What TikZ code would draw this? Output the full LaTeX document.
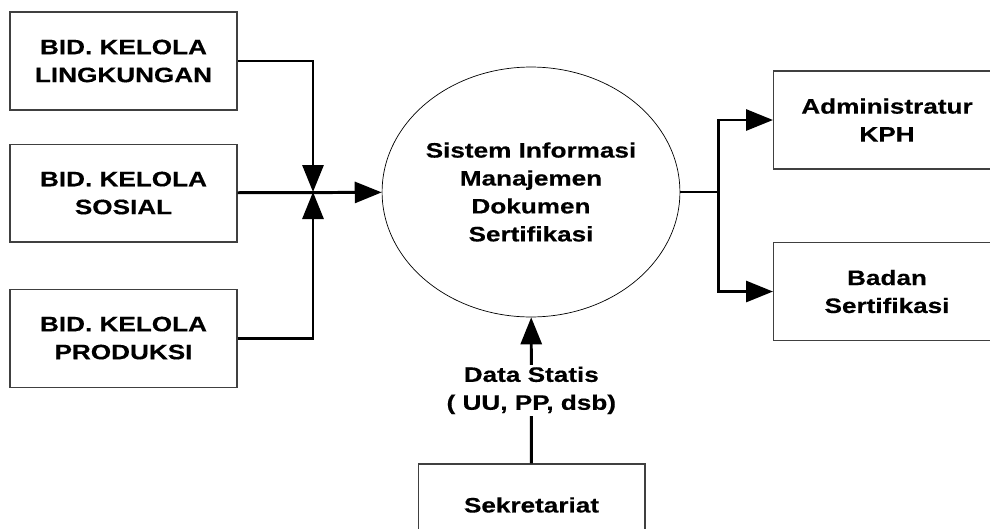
\documentclass[tikz,border=0pt]{standalone}
\usepackage{fontspec}
\setmainfont{Liberation Sans}
\newfontfamily\boxfont{Liberation Sans}[FakeStretch=1.25, FakeBold=0.4]
\usepackage{tikz}
\usetikzlibrary{arrows.meta,shapes.geometric,positioning}

\tikzset{
    label text/.style={font=\boxfont\fontsize{11.9}{15.9}\selectfont\bfseries},
    unit/.style={draw=black!75, line width=0.6pt, minimum width=4.54cm, minimum height=1.96cm,
        inner sep=0pt, align=center, label text},
    flow/.style={line width=1.7pt, -{Triangle[length=0.54cm,width=0.42cm]}},
    link/.style={line width=1.7pt}
}

\begin{document}
\begin{tikzpicture}[x=0.02cm, y=-0.02cm]
    \useasboundingbox (0,0) rectangle (990,528);

    \node[ellipse, draw, line width=0.4pt, minimum width=5.76cm, minimum height=5cm, inner sep=0pt,
        align=center, label text] (sim) at (531,192)
        {Sistem Informasi\\Manajemen\\Dokumen\\Sertifikasi};

    % bidang kelola on the left
    \node[unit] (lingk) at (123.5,61) {BID. KELOLA\\LINGKUNGAN};
    \node[unit, below = 0.66cm of lingk] (sosial) {BID. KELOLA\\SOSIAL};
    \node[unit, below = 0.92cm of sosial] (prod) {BID. KELOLA\\PRODUKSI};

    \coordinate (join) at (313,192);
    \draw[flow] (lingk) -| (join);
    \draw[flow] (prod) -| (join);
    \draw[flow] (sosial) -- (sim);

    % output side
    \node[unit] (adm) at (887,120) {Administratur\\KPH};
    \node[unit, below = 1.45cm of adm] (badan) {Badan\\Sertifikasi};

    \coordinate (split) at (718,192);
    \draw[link] (sim) -- (split);
    \draw[flow] (split) |- (adm);
    \draw[flow] (split) |- (badan);

    % sekretariat at the bottom
    \node[unit, minimum height=1.64cm] (sekr) at (531.5,505) {Sekretariat};
    \draw[flow] (sekr) -- node[fill=white, align=center, inner sep=1pt, label text] (data)
        {Data Statis\\( UU, PP, dsb)} (sim);
\end{tikzpicture}
\end{document}
